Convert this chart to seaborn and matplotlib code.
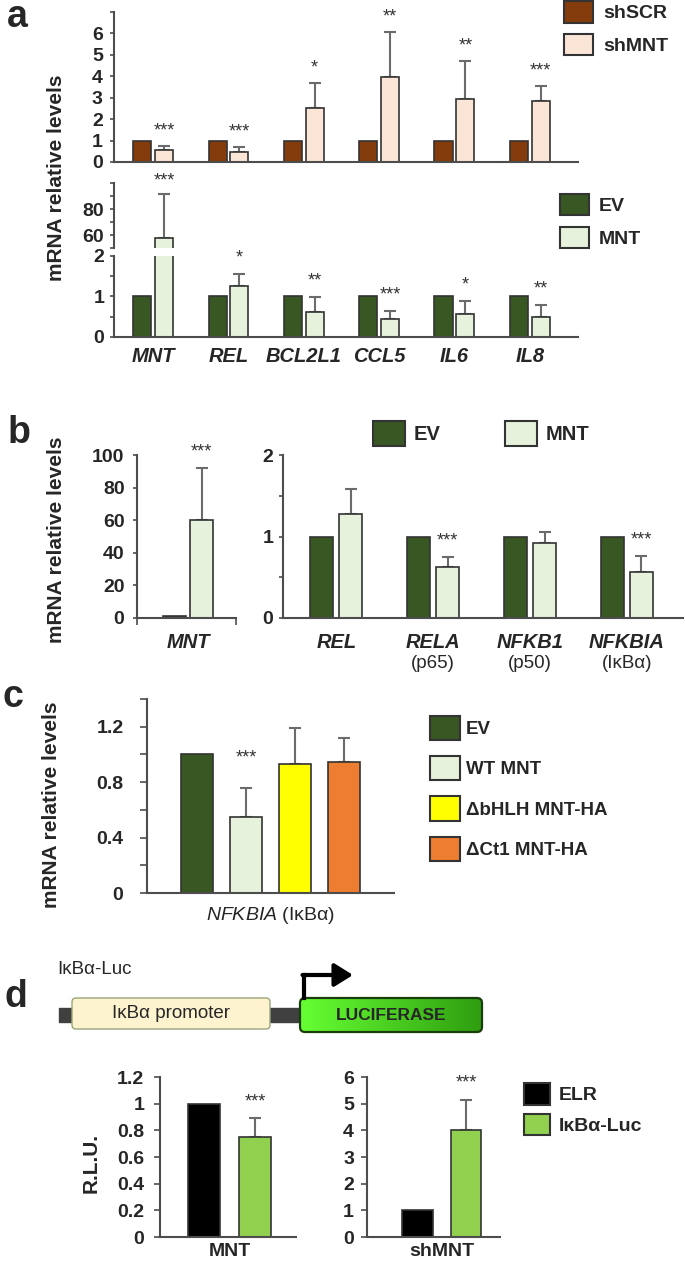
import numpy as np
import pandas as pd
import seaborn as sns
import matplotlib.pyplot as plt
import matplotlib.patches as mpatches
from matplotlib.colors import LinearSegmentedColormap

sns.set_style("ticks")
plt.rcParams["font.family"] = ["Liberation Sans", "DejaVu Sans"]
plt.rcParams["mathtext.fontset"] = "custom"
plt.rcParams["mathtext.it"] = "Liberation Sans:italic"
plt.rcParams["mathtext.rm"] = "Liberation Sans"

# ---- panel a ----
genes_a = ["MNT", "REL", "BCL2L1", "CCL5", "IL6", "IL8"]
shscr = [1, 1, 1, 1, 1, 1]
shmnt = [0.56, 0.45, 2.5, 3.95, 2.95, 2.84]
shmnt_sd = [0.19, 0.25, 1.17, 2.1, 1.77, 0.72]
shmnt_stars = ["***", "***", "*", "**", "**", "***"]

ev_a = [1, 1, 1, 1, 1, 1]
mnt_a = [58, 1.27, 0.62, 0.44, 0.58, 0.50]
mnt_a_sd = [33.5, 0.29, 0.36, 0.21, 0.31, 0.29]
mnt_a_stars = ["***", "*", "**", "***", "*", "**"]

# ---- panel b ----
genes_b1 = ["MNT"]
ev_b1 = [1]
mnt_b1 = [60]
mnt_b1_sd = [32]
mnt_b1_stars = ["***"]

genes_b2 = ["REL", "RELA", "NFKB1", "NFKBIA"]
proteins_b2 = ["", "(p65)", "(p50)", "(IκBα)"]
ev_b2 = [1, 1, 1, 1]
mnt_b2 = [1.27, 0.62, 0.92, 0.56]
mnt_b2_sd = [0.31, 0.13, 0.13, 0.20]
mnt_b2_stars = ["", "***", "", "***"]

# ---- panel c ----
constructs_c = ["EV", "WT MNT", "ΔbHLH MNT-HA", "ΔCt1 MNT-HA"]
nfkbia_c = [1.0, 0.55, 0.93, 0.945]
nfkbia_c_sd = [0, 0.205, 0.26, 0.175]
nfkbia_c_stars = ["", "***", "", ""]

# ---- panel d ----
reporters_d = ["ELR", "IκBα-Luc"]
rlu_mnt = [1.0, 0.75]
rlu_mnt_sd = [0, 0.14]
rlu_shmnt = [1.0, 4.0]
rlu_shmnt_sd = [0, 1.13]

W, H = 685, 1261
EDGE = "#333333"
SPINE = "#4d4d4d"
ERRC = "#6b6b6b"
BROWN, PEACH = "#843c0c", "#fbe5d6"
DKGREEN, LTGREEN = "#385723", "#e6f2dc"
YELLOW, ORANGE = "#ffff00", "#ed7d31"
LUCGREEN = "#92d050"
TICKFS = 14

fig = plt.figure(figsize=(W / 100, H / 100), dpi=100)


def px_box(x0, y0, x1, y1):
    return [x0 / W, 1 - y1 / H, (x1 - x0) / W, (y1 - y0) / H]


def draw_bars(ax, cats, levels, table, colors, width, gap):
    rows = [(c, lev, v) for lev, vals in zip(levels, table) for c, v in zip(cats, vals)]
    df = pd.DataFrame(rows, columns=["cat", "grp", "val"])
    sns.barplot(data=df, x="cat", y="val", hue="grp", order=cats, hue_order=levels,
                palette=dict(zip(levels, colors)), width=width, gap=gap,
                errorbar=None, saturation=1, edgecolor=EDGE, linewidth=1.2,
                legend=False, ax=ax)
    ax.set_xlabel("")
    ax.set_ylabel("")


def errbars(ax, k, sd, stars=None, off=15):
    cont = ax.containers[k]
    xs = [b.get_x() + b.get_width() / 2 for b in cont]
    ys = [b.get_height() for b in cont]
    stars = stars or [""] * len(sd)
    for x, y, e, s in zip(xs, ys, sd, stars):
        if e > 0:
            ax.errorbar([x], [y], yerr=[[0], [e]], fmt="none", ecolor=ERRC,
                        elinewidth=1.5, capsize=4, capthick=1.5, zorder=0.9)
        if s:
            ax.annotate(s, (x, y + e), xytext=(0, off * 0.72), textcoords="offset points",
                        ha="center", va="center", fontsize=13, color="#333333",
                        annotation_clip=False)


def style(ax, yticks, ylabels, ylim, xlim, pad, ticklen=3, fs=TICKFS):
    ax.set_ylim(*ylim)
    ax.set_xlim(*xlim)
    ax.set_yticks(yticks)
    ax.set_yticklabels(ylabels, fontweight="bold", fontsize=fs)
    ax.tick_params(axis="y", length=ticklen, width=1.2, color=SPINE, pad=pad)
    ax.tick_params(axis="x", length=0)
    for s in ["top", "right"]:
        ax.spines[s].set_visible(False)
    for s in ["left", "bottom"]:
        ax.spines[s].set_color(SPINE)
        ax.spines[s].set_linewidth(1.5)


def legend(labels, colors, x, y, fs, hl, hh, lsp=0.6, htp=0.5, ncol=1, csp=2.0):
    handles = [mpatches.Patch(facecolor=c, edgecolor=EDGE, linewidth=1.5) for c in colors]
    fig.legend(handles, labels, loc="upper left", bbox_to_anchor=(x / W, 1 - y / H),
               frameon=False, borderpad=0, borderaxespad=0, handlelength=hl,
               handleheight=hh, handletextpad=htp, labelspacing=lsp, ncol=ncol,
               columnspacing=csp, prop={"weight": "bold", "size": fs})


# diagram layer (panel d construct)
ax0 = fig.add_axes([0, 0, 1, 1], zorder=-1)
ax0.set_axis_off()

# ================= panel a (top) =================
ax = fig.add_axes(px_box(114, 12, 578, 162))
draw_bars(ax, genes_a, ["shSCR", "shMNT"], [shscr, shmnt], [BROWN, PEACH], 0.58, 0.17)
errbars(ax, 1, shmnt_sd, shmnt_stars)
style(ax, list(range(8)), [str(i) for i in range(7)] + [""], (0, 7), (-0.52, 5.64), pad=5)
ax.set_xticks([])
legend(["shSCR", "shMNT"], [BROWN, PEACH], 564, 1, 14, 1.5, 1.34, lsp=0.57, htp=0.52)

# ================= panel a (bottom, broken axis) =================
ax_hi = fig.add_axes(px_box(114, 183, 578, 248))
draw_bars(ax_hi, genes_a, ["EV", "MNT"], [ev_a, mnt_a], [DKGREEN, LTGREEN], 0.58, 0.17)
errbars(ax_hi, 1, mnt_a_sd, mnt_a_stars[:1] + [""] * 5, off=13)
style(ax_hi, [50, 60, 70, 80, 90, 100], ["", "60", "", "80", "", ""], (50, 100),
      (-0.52, 5.64), pad=4)
ax_hi.spines["bottom"].set_visible(False)
ax_hi.set_xticks([])

ax_lo = fig.add_axes(px_box(114, 256, 578, 337))
draw_bars(ax_lo, genes_a, ["EV", "MNT"], [ev_a, mnt_a], [DKGREEN, LTGREEN], 0.58, 0.17)
errbars(ax_lo, 1, mnt_a_sd, [""] + mnt_a_stars[1:], off=16)
style(ax_lo, [0, 0.5, 1, 1.5, 2], ["0", "", "1", "", "2"], (0, 2), (-0.52, 5.64), pad=4)
ax_lo.set_xticks(range(len(genes_a)))
ax_lo.set_xticklabels(genes_a, fontsize=14.5, fontweight="bold", fontstyle="italic")
ax_lo.tick_params(axis="x", pad=7)
legend(["EV", "MNT"], [DKGREEN, LTGREEN], 560, 194, 14, 1.5, 1.3, lsp=0.62, htp=0.5)

fig.text(57 / W, 1 - 178 / H, "mRNA relative levels", rotation=90, ha="center",
         va="center", fontsize=15, fontweight="bold")

# ================= panel b =================
ax = fig.add_axes(px_box(137, 455, 236, 618))
draw_bars(ax, genes_b1, ["EV", "MNT"], [ev_b1, mnt_b1], [DKGREEN, LTGREEN], 0.58, 0.17)
errbars(ax, 1, mnt_b1_sd, mnt_b1_stars, off=16)
style(ax, [0, 20, 40, 60, 80, 100], ["0", "20", "40", "60", "80", "100"], (0, 100),
      (-0.537, 0.505), pad=6)
ax.set_xticks([0])
ax.set_xticklabels(genes_b1, fontsize=14.5, fontweight="bold", fontstyle="italic")
ax.set_xticks([-0.537, 0.505], minor=True)
ax.tick_params(axis="x", which="minor", length=5, width=1.2, color=SPINE)
ax.tick_params(axis="x", which="major", pad=11)

ax = fig.add_axes(px_box(283, 455, 683, 618))
draw_bars(ax, genes_b2, ["EV", "MNT"], [ev_b2, mnt_b2], [DKGREEN, LTGREEN], 0.6, 0.2)
errbars(ax, 1, mnt_b2_sd, mnt_b2_stars, off=16)
style(ax, [0, 0.5, 1, 1.5, 2], ["0", "", "1", "", "2"], (0, 2), (-0.55, 3.58), pad=4)
ax.set_xticks(range(len(genes_b2)))
ax.set_xticklabels(genes_b2, fontsize=14.5, fontweight="bold", fontstyle="italic")
ax.tick_params(axis="x", pad=11)
for i, p in enumerate(proteins_b2):
    if p:
        ax.annotate(p, (i, 0), xycoords=("data", "axes fraction"), xytext=(0, -45 * 0.72),
                    textcoords="offset points", ha="center", va="center", fontsize=13.5,
                    annotation_clip=False)
legend(["EV", "MNT"], [DKGREEN, LTGREEN], 373, 421, 14.5, 1.6, 1.55, htp=0.41, ncol=2, csp=3.2)

fig.text(57 / W, 1 - 540 / H, "mRNA relative levels", rotation=90, ha="center",
         va="center", fontsize=15, fontweight="bold")

# ================= panel c =================
ax = fig.add_axes(px_box(147, 699, 394, 893))
draw_bars(ax, ["NFKBIA"], constructs_c, [[v] for v in nfkbia_c],
          [DKGREEN, LTGREEN, YELLOW, ORANGE], 0.8, 0.35)
for k in range(len(constructs_c)):
    errbars(ax, k, [nfkbia_c_sd[k]], [nfkbia_c_stars[k]], off=30)
style(ax, [0, 0.2, 0.4, 0.6, 0.8, 1.0, 1.2, 1.4],
      ["0", "", "0.4", "", "0.8", "", "1.2", ""], (0, 1.4), (-0.504, 0.504), pad=12, ticklen=5)
ax.set_xticks([0])
ax.set_xticklabels([r"$\mathit{NFKBIA}$ (IκBα)"], fontsize=14)
ax.tick_params(axis="x", pad=9)
legend(constructs_c, [DKGREEN, LTGREEN, YELLOW, ORANGE], 430, 716, 13.5, 1.6, 1.6,
       lsp=0.86, htp=0.33)

fig.text(52 / W, 1 - 805 / H, "mRNA relative levels", rotation=90, ha="center",
         va="center", fontsize=15, fontweight="bold")

# ================= panel d =================
ax = fig.add_axes(px_box(160, 1077, 296, 1237))
draw_bars(ax, ["MNT"], reporters_d, [[v] for v in rlu_mnt], ["black", LUCGREEN], 0.6, 0.37)
errbars(ax, 1, rlu_mnt_sd[1:], ["***"], off=16)
style(ax, [0, 0.2, 0.4, 0.6, 0.8, 1.0, 1.2], ["0", "0.2", "0.4", "0.6", "0.8", "1", "1.2"],
      (0, 1.2), (-0.41, 0.39), pad=7, ticklen=4.3)
ax.set_xticks([0])
ax.set_xticklabels(["MNT"], fontsize=14, fontweight="bold")
ax.tick_params(axis="x", pad=4)

ax = fig.add_axes(px_box(367, 1077, 500, 1237))
draw_bars(ax, ["shMNT"], reporters_d, [[v] for v in rlu_shmnt], ["black", LUCGREEN], 0.6, 0.37)
errbars(ax, 1, rlu_shmnt_sd[1:], ["***"], off=17)
style(ax, list(range(7)), [str(i) for i in range(7)], (0, 6), (-0.46, 0.36), pad=5, ticklen=4.3)
ax.set_xticks([0])
ax.set_xticklabels(["shMNT"], fontsize=14, fontweight="bold")
ax.tick_params(axis="x", pad=4)
legend(reporters_d, ["black", LUCGREEN], 524, 1083, 14, 1.35, 1.35, lsp=0.45, htp=0.45)

fig.text(91 / W, 1 - 1163 / H, "R.L.U.", rotation=90, ha="center", va="center",
         fontsize=15, fontweight="bold")

# construct diagram
ax0.add_patch(mpatches.Rectangle((59, 1008), 420, 14, color="#404040", zorder=1))
ax0.add_patch(mpatches.FancyBboxPatch((72, 998), 198, 31, boxstyle="round,pad=0,rounding_size=4",
                                      facecolor="#fdf3cf", edgecolor="#9aa57a", lw=1, zorder=2))
luc = mpatches.FancyBboxPatch((300, 998), 182, 34, boxstyle="round,pad=0,rounding_size=5",
                              facecolor="none", edgecolor="#1b3d0b", lw=1.6, zorder=3)
ax0.add_patch(luc)
grad = np.linspace(0, 1, 100).reshape(1, -1)
im = ax0.imshow(grad, extent=(300, 482, 1032, 998), aspect="auto",
                cmap=LinearSegmentedColormap.from_list("luc", ["#66ff33", "#2f9e10"]), zorder=2)
im.set_clip_path(luc)
ax0.text(171, 1014, "IκBα promoter", ha="center", va="center", fontsize=13.5)
ax0.text(391, 1015, "LUCIFERASE", ha="center", va="center", fontsize=12.5, fontweight="bold")
ax0.text(57, 970, "IκBα-Luc", ha="left", va="center", fontsize=13.5)
ax0.plot([304, 304], [998, 975], color="black", lw=3, solid_capstyle="projecting", zorder=4)
ax0.annotate("", xy=(353, 975), xytext=(302.5, 975),
             arrowprops=dict(arrowstyle="-|>,head_length=0.8,head_width=0.5", lw=3,
                             color="black", mutation_scale=14, shrinkA=0, shrinkB=0))
ax0.set_xlim(0, W)
ax0.set_ylim(H, 0)

# panel letters
for letter, x, y in [("a", 7, 27), ("b", 8, 443), ("c", 3, 707), ("d", 4, 1007)]:
    fig.text(x / W, 1 - y / H, letter, fontsize=27, fontweight="bold", va="baseline")

fig.savefig("out.png", dpi=100)
